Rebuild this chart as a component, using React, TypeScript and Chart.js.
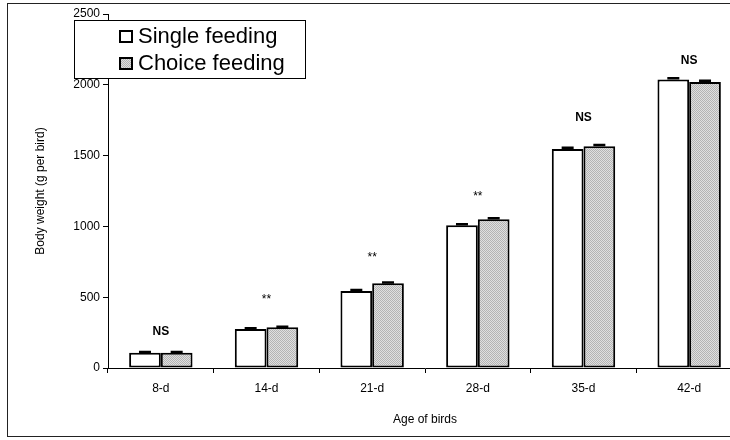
import React, { useEffect, useRef } from "react";
import { Chart, registerables } from "chart.js";

Chart.register(...registerables);

const categories = ["8-d", "14-d", "21-d", "28-d", "35-d", "42-d"];
const seriesLabels = ["Single feeding", "Choice feeding"];
const singleFeeding = [108, 275, 544, 1008, 1547, 2038];
const choiceFeeding = [108, 287, 598, 1050, 1566, 2020];
const singleError = [5, 5, 6, 7, 8, 8];
const choiceError = [5, 5, 6, 7, 8, 8];
const significance = ["NS", "**", "**", "**", "NS", "NS"];
const significanceAt = [254, 494, 791, 1222, 1765, 2170];
const yTicks = [0, 500, 1000, 1500, 2000, 2500];

const FONT = "'Liberation Sans', Arial, sans-serif";
const CW = 760;
const CH = 440;

function makePattern(): CanvasPattern | string {
  const c = document.createElement("canvas");
  c.width = 2;
  c.height = 2;
  const x = c.getContext("2d");
  if (!x) return "#c8c8c8";
  x.fillStyle = "#e0e0e0";
  x.fillRect(0, 0, 2, 2);
  x.fillStyle = "#b4b4b4";
  x.fillRect(0, 0, 1, 1);
  x.fillRect(1, 1, 1, 1);
  const p = x.createPattern(c, "repeat");
  return p || "#c8c8c8";
}

export default function App() {
  const ref = useRef<HTMLCanvasElement | null>(null);

  useEffect(() => {
    if (!ref.current) return;
    const pattern = makePattern();
    const errors = [singleError, choiceError];

    const framePlugin = {
      id: "frame",
      beforeDraw(chart: any) {
        const ctx = chart.ctx;
        ctx.save();
        ctx.fillStyle = "#fff";
        ctx.fillRect(0, 0, chart.width, chart.height);
        ctx.strokeStyle = "#222";
        ctx.lineWidth = 1;
        ctx.strokeRect(7.5, 3.5, 780, 433);
        ctx.restore();
      },
    };

    const errorPlugin = {
      id: "errs",
      afterDatasetsDraw(chart: any) {
        const ctx = chart.ctx;
        const ys = chart.scales.y;
        ctx.save();
        ctx.strokeStyle = "#000";
        ctx.lineWidth = 2.5;
        chart.data.datasets.forEach((ds: any, i: number) => {
          const meta = chart.getDatasetMeta(i);
          meta.data.forEach((bar: any, j: number) => {
            const v = ds.data[j];
            const e = errors[i][j];
            const yTop = ys.getPixelForValue(v + e);
            const yv = ys.getPixelForValue(v);
            ctx.beginPath();
            ctx.moveTo(bar.x, yv);
            ctx.lineTo(bar.x, yTop);
            ctx.moveTo(bar.x - 6, yTop);
            ctx.lineTo(bar.x + 6, yTop);
            ctx.stroke();
          });
        });
        const xs = chart.scales.x;
        ctx.fillStyle = "#000";
        ctx.textAlign = "center";
        ctx.textBaseline = "middle";
        significance.forEach((s, j) => {
          ctx.font = s === "NS" ? `bold 12px ${FONT}` : `12px ${FONT}`;
          const x = xs.getPixelForValue(j);
          const y = ys.getPixelForValue(significanceAt[j]);
          ctx.fillText(s, x, s === "NS" ? y : y + 2);
        });
        ctx.restore();
      },
    };

    const legendPlugin = {
      id: "customLegend",
      afterDraw(chart: any) {
        const ctx = chart.ctx;
        ctx.save();
        ctx.fillStyle = "#fff";
        ctx.fillRect(74, 20, 231, 58);
        ctx.strokeStyle = "#000";
        ctx.lineWidth = 1;
        ctx.strokeRect(74.5, 20.5, 231, 58);
        ctx.font = `22px ${FONT}`;
        ctx.textBaseline = "alphabetic";
        ctx.textAlign = "left";
        chart.data.datasets.forEach((ds: any, i: number) => {
          const by = 30 + i * 27;
          ctx.fillStyle = ds.backgroundColor;
          ctx.fillRect(119, by, 14, 13);
          ctx.strokeStyle = "#000";
          ctx.lineWidth = 2;
          ctx.strokeRect(120, by + 1, 12, 11);
          ctx.fillStyle = "#000";
          ctx.fillText(ds.label, 138, 43 + i * 27);
        });
        ctx.restore();
      },
    };

    const chart = new Chart(ref.current, {
      type: "bar",
      data: {
        labels: categories,
        datasets: [
          {
            label: seriesLabels[0],
            data: singleFeeding,
            backgroundColor: "#ffffff",
            borderColor: "#000",
            borderWidth: 2,
            borderSkipped: false,
            categoryPercentage: 0.6,
            barPercentage: 1,
          },
          {
            label: seriesLabels[1],
            data: choiceFeeding,
            backgroundColor: pattern as any,
            borderColor: "#000",
            borderWidth: 2,
            borderSkipped: false,
            categoryPercentage: 0.6,
            barPercentage: 1,
          },
        ],
      },
      options: {
        animation: false,
        responsive: false,
        devicePixelRatio: 1,
        layout: { padding: { left: 0, top: 14, right: CW - 742, bottom: 0 } },
        plugins: {
          legend: { display: false },
          tooltip: { enabled: false },
        },
        scales: {
          x: {
            afterFit: (s: any) => {
              s.height = CH - 368;
            },
            grid: {
              display: true,
              offset: true,
              drawOnChartArea: false,
              drawTicks: true,
              tickLength: 5,
              color: "#000",
            },
            border: { display: true, color: "#000", width: 1 },
            ticks: {
              color: "#000",
              padding: 8,
              font: { family: FONT, size: 12 },
            },
            title: {
              display: true,
              text: "Age of birds",
              color: "#000",
              font: { family: FONT, size: 12 },
              padding: { top: 0, bottom: 13 },
            },
          },
          y: {
            min: 0,
            max: 2500,
            afterFit: (s: any) => {
              s.width = 108;
            },
            afterBuildTicks: (s: any) => {
              s.ticks = yTicks.map((v) => ({ value: v }));
            },
            grid: {
              display: true,
              drawOnChartArea: false,
              drawTicks: true,
              tickLength: 5,
              color: "#000",
            },
            border: { display: true, color: "#000", width: 1 },
            ticks: {
              color: "#000",
              padding: 3,
              font: { family: FONT, size: 12 },
              callback: (v: any) => String(v),
            },
            title: {
              display: true,
              text: "Body weight (g per bird)",
              color: "#000",
              font: { family: FONT, size: 12 },
              padding: { top: 33, bottom: 0 },
            },
          },
        },
      },
      plugins: [framePlugin, errorPlugin, legendPlugin],
    });

    return () => chart.destroy();
  }, []);

  return (
    <div
      style={{
        position: "fixed",
        left: 0,
        top: 0,
        width: 730,
        height: 440,
        overflow: "hidden",
        background: "#fff",
      }}
    >
      <canvas ref={ref} width={CW} height={CH} style={{ width: CW, height: CH, display: "block" }} />
    </div>
  );
}
